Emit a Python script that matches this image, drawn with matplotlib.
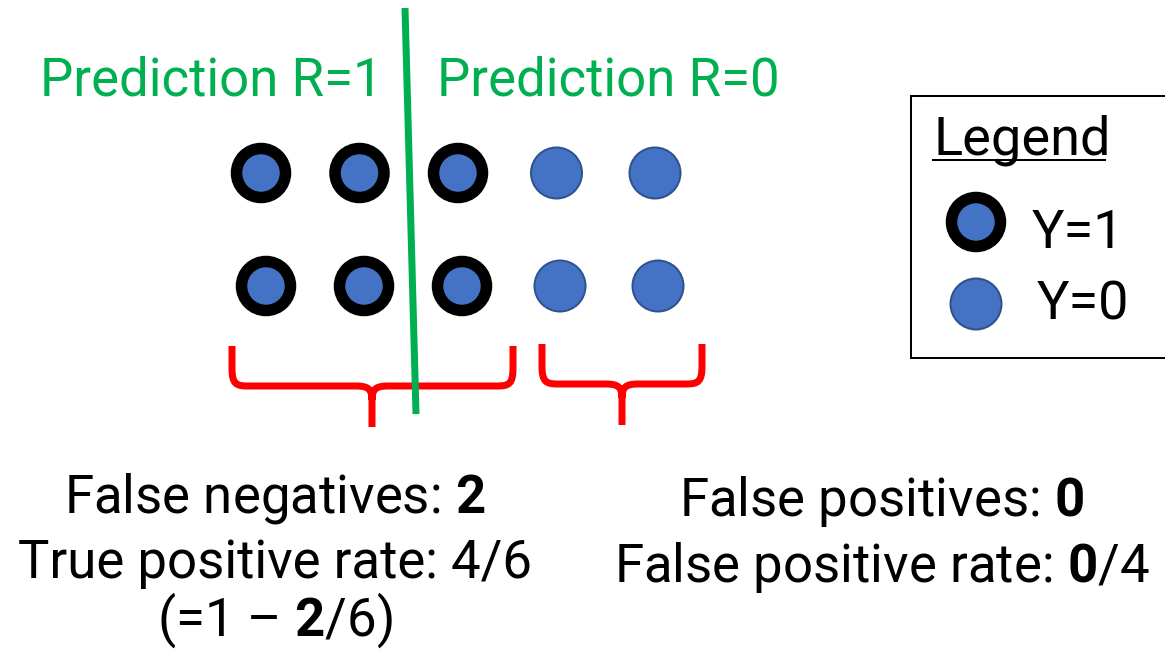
import matplotlib
matplotlib.use("Agg")
import matplotlib.pyplot as plt
from matplotlib.patches import Circle, Rectangle, PathPatch
from matplotlib.path import Path

plt.rcParams['font.family'] = ['Roboto', 'DejaVu Sans']
plt.rcParams['mathtext.fontset'] = 'custom'
plt.rcParams['mathtext.rm'] = 'Roboto'
plt.rcParams['mathtext.bf'] = 'Roboto:bold'

# ---- data ----
columns = [0, 1, 2, 3, 4]
rows = [0, 1]
y_true_top = [1, 1, 1, 0, 0]
y_true_bottom = [1, 1, 1, 0, 0]
pred_top = [1, 1, 0, 0, 0]
pred_bottom = [1, 1, 0, 0, 0]
header_labels = ["Prediction R=1", "Prediction R=0"]
legend_labels = ["Y=1", "Y=0"]

BLUE = "#4472C4"
BLUE_EDGE = "#2F528F"
GREEN = "#00B050"
RED = "#FF0000"

fig = plt.figure(figsize=(11.65, 6.5), dpi=100)
ax = fig.add_axes([0, 0, 1, 1])
ax.set_xlim(0, 1165)
ax.set_ylim(650, 0)
ax.axis("off")

px = 0.72  # points per pixel at dpi 100


def ringed(x, y):
    ax.add_patch(Circle((x, y), 24.5, facecolor=BLUE, edgecolor="black",
                        linewidth=11.5 * px, zorder=3))


def plain(x, y):
    ax.add_patch(Circle((x, y), 25.5, facecolor=BLUE, edgecolor=BLUE_EDGE,
                        linewidth=2 * px, zorder=3))


row_y = {0: 173, 1: 286}
row_x0 = {0: 261, 1: 266}
row_dx = {0: 98.5, 1: 98.0}
for r, labels in zip(rows, [y_true_top, y_true_bottom]):
    for c, yv in zip(columns, labels):
        x = row_x0[r] + c * row_dx[r]
        (ringed if yv == 1 else plain)(x, row_y[r])

# green decision line
ax.plot([405, 416], [8, 414], color=GREEN, lw=7 * px, solid_capstyle="butt", zorder=5)

# headers
ax.text(211, 95, header_labels[0], color=GREEN, fontsize=38, ha="center", va="baseline")
ax.text(608, 95, header_labels[1], color=GREEN, fontsize=38, ha="center", va="baseline")


def brace(xl, xr, xm, ytop, yh, ytip):
    verts = [(xl, ytop), (xl, yh - 18),
             (xl, yh - 2), (xl + 4, yh), (xl + 16, yh),
             (xm - 16, yh),
             (xm - 4, yh), (xm, yh + 3), (xm, yh + 14),
             (xm, ytip),
             (xm, yh + 14),
             (xm, yh + 3), (xm + 4, yh), (xm + 16, yh),
             (xr - 16, yh),
             (xr - 4, yh), (xr, yh - 2), (xr, yh - 18),
             (xr, ytop)]
    codes = [Path.MOVETO, Path.LINETO,
             Path.CURVE4, Path.CURVE4, Path.CURVE4,
             Path.LINETO,
             Path.CURVE4, Path.CURVE4, Path.CURVE4,
             Path.LINETO,
             Path.MOVETO,
             Path.CURVE4, Path.CURVE4, Path.CURVE4,
             Path.LINETO,
             Path.CURVE4, Path.CURVE4, Path.CURVE4,
             Path.LINETO]
    ax.add_patch(PathPatch(Path(verts, codes), facecolor="none", edgecolor=RED,
                           lw=7 * px, capstyle="butt", joinstyle="round", zorder=4))


brace(232, 513, 372, 346, 386, 427)
brace(542, 702, 622, 344, 384, 425)

# metrics from data
all_true = y_true_top + y_true_bottom
all_pred = pred_top + pred_bottom
pos = sum(1 for t in all_true if t == 1)
neg = sum(1 for t in all_true if t == 0)
tp = sum(1 for t, p in zip(all_true, all_pred) if t == 1 and p == 1)
fn = sum(1 for t, p in zip(all_true, all_pred) if t == 1 and p == 0)
fp = sum(1 for t, p in zip(all_true, all_pred) if t == 0 and p == 1)

fs = 38
ax.text(275, 513, f"False negatives: $\\mathbf{{{fn}}}$", fontsize=fs, ha="center", va="baseline")
ax.text(275, 578, f"True positive rate: {tp}/{pos}", fontsize=fs, ha="center", va="baseline")
ax.text(275, 636, f"(=1 \u2013 $\\mathbf{{{fn}}}$/{pos})", fontsize=fs, ha="center", va="baseline")
ax.text(882, 516, f"False positives: $\\mathbf{{{fp}}}$", fontsize=fs, ha="center", va="baseline")
ax.text(882, 582, f"False positive rate: $\\mathbf{{{fp}}}$/{neg}", fontsize=fs, ha="center", va="baseline")

# legend box
ax.add_patch(Rectangle((911, 96), 300, 262, facecolor="white", edgecolor="black",
                       lw=2 * px, zorder=2, clip_on=False))
ax.text(933, 154, "Legend", fontsize=39, ha="left", va="baseline", zorder=6)
ax.plot([933, 1105], [159.5, 159.5], color="black", lw=2 * px, zorder=6)
ringed(976, 222)
plain(976, 304)
ax.text(1032, 248, legend_labels[0], fontsize=39, ha="left", va="baseline", zorder=6)
ax.text(1037, 320, legend_labels[1], fontsize=39, ha="left", va="baseline", zorder=6)

fig.savefig("out.png", dpi=100)
